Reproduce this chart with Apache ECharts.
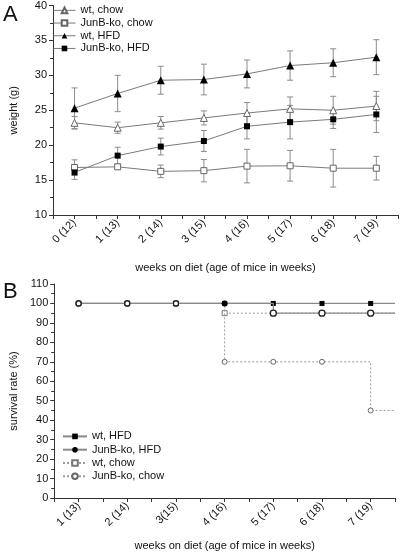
<!DOCTYPE html>
<html><head><meta charset="utf-8">
<script src="https://cdn.jsdelivr.net/npm/echarts@6/dist/echarts.min.js"></script>
<style>html,body{margin:0;padding:0;background:#fff;}#a{position:absolute;left:0;top:0;width:400px;height:278px;}#b{position:absolute;left:0;top:278px;width:400px;height:278px;}</style>
</head><body><div id="a"></div><div id="b"></div>
<script>
// ---- Panel A data ----
const weeksA = ['0 (12)','1 (13)','2 (14)','3 (15)','4 (16)','5 (17)','6 (18)','7 (19)'];
const wtChow    = [23.2,22.5,23.2,23.9,24.6,25.2,25.0,25.6];
const wtChowErr = [0.9,0.8,0.9,1.0,1.5,1.7,2.0,2.1];
const koChow    = [16.8,16.9,16.25,16.35,17.0,17.05,16.7,16.7];
const koChowErr = [1.1,0.3,0.9,1.6,2.4,2.2,2.7,1.7];
const wtHfd     = [25.3,27.4,29.3,29.4,30.2,31.4,31.8,32.6];
const wtHfdErr  = [2.9,2.6,2.0,2.2,2.0,2.1,2.0,2.5];
const koHfd     = [16.1,18.5,19.8,20.6,22.7,23.3,23.7,24.4];
const koHfdErr  = [1.0,1.2,1.2,1.5,1.8,2.4,1.3,2.6];
const yTicksA = [10,15,20,25,30,35,40];

// ---- Panel B data ----
const weeksB = ['1 (13)','2 (14)','3(15)','4 (16)','5 (17)','6 (18)','7 (19)'];
const weekNumB = [1,2,3,4,5,6,7];
const survWtHfd  = [100,100,100,100,100,100,100];
const survKoHfd  = [100,100,100,100,95,95,95];
const survWtChow = [100,100,100,95,95,95,95];
const survKoChow = [100,100,100,70,70,70,45];
const yTicksB = [0,10,20,30,40,50,60,70,80,90,100,110];

const FONT = 'Liberation Sans, Arial, sans-serif';
const TXT = '#111';
const AX = '#333';

function pts(vals, offs){ return vals.map((v,i)=>[i+offs, v]); }
function errPts(vals, errs){ return vals.map((v,i)=>[i, v, errs[i]]); }

function errSeries(vals, errs){
  return {
    type:'custom', xAxisIndex:0, yAxisIndex:0, z:1, silent:true,
    data: errPts(vals, errs),
    renderItem: function(params, api){
      const x = api.value(0), y = api.value(1), e = api.value(2);
      const t = api.coord([x, y+e]), b = api.coord([x, y-e]);
      const w = 3;
      const st = {stroke:'#8c8c8c', lineWidth:1};
      return {type:'group', children:[
        {type:'line', shape:{x1:t[0],y1:t[1],x2:b[0],y2:b[1]}, style:st},
        {type:'line', shape:{x1:t[0]-w,y1:t[1],x2:t[0]+w,y2:t[1]}, style:st},
        {type:'line', shape:{x1:b[0]-w,y1:b[1],x2:b[0]+w,y2:b[1]}, style:st}
      ]};
    }
  };
}

function axisCommon(){
  return {
    axisLine:{show:true, onZero:false, lineStyle:{color:AX, width:1}},
    axisTick:{show:true, inside:false, length:4, lineStyle:{color:AX}},
    splitLine:{show:false},
    axisLabel:{color:TXT, fontFamily:FONT, fontSize:11}
  };
}

// ---------- Chart A ----------
const ca = echarts.init(document.getElementById('a'), null, {renderer:'canvas'});
const lineA = {color:'#7a7a7a', width:1};
ca.setOption({
  animation:false,
  textStyle:{fontFamily:FONT},
  grid:{left:44, right:1, top:5, bottom:57, containLabel:false},
  graphic:[{type:'text', left:3, top:4, style:{text:'A', font:'22px '+FONT, fill:'#111'}}],
  legend:{
    orient:'vertical', left:53, top:4, itemWidth:22, itemHeight:7, itemGap:0, padding:[0,0,0,0],
    lineStyle:{width:1, color:'#7a7a7a'},
    textStyle:{fontFamily:FONT, fontSize:11, color:TXT, lineHeight:12.7},
    data:['wt, chow','JunB-ko, chow','wt, HFD','JunB-ko, HFD']
  },
  xAxis:Object.assign(axisCommon(), {
    type:'value', min:-0.5, max:7.5, interval:0.5,
    name:'weeks on diet (age of mice in weeks)', nameLocation:'middle', nameGap:47,
    nameTextStyle:{fontFamily:FONT, fontSize:11, color:TXT},
    axisLabel:{color:TXT, fontFamily:FONT, fontSize:11, rotate:45, margin:6,
      formatter:function(v){ return (Number.isInteger(v) && v>=0 && v<weeksA.length) ? weeksA[v] : ''; }}
  }),
  yAxis:Object.assign(axisCommon(), {
    type:'value', min:yTicksA[0], max:yTicksA[yTicksA.length-1], interval:yTicksA[1]-yTicksA[0],
    minorTick:{show:true, splitNumber:2, length:3, lineStyle:{color:AX}},
    name:'weight (g)', nameLocation:'middle', nameGap:34,
    nameTextStyle:{fontFamily:FONT, fontSize:11, color:TXT},
    axisLabel:{color:TXT, fontFamily:FONT, fontSize:11, margin:6}
  }),
  series:[
    errSeries(wtChow, wtChowErr),
    errSeries(koChow, koChowErr),
    errSeries(wtHfd, wtHfdErr),
    errSeries(koHfd, koHfdErr),
    {name:'wt, chow', type:'line', z:3, data:pts(wtChow,0), symbol:'triangle', symbolSize:7,
      lineStyle:lineA, itemStyle:{color:'#fff', borderColor:'#666', borderWidth:1}},
    {name:'JunB-ko, chow', type:'line', z:3, data:pts(koChow,0), symbol:'rect', symbolSize:6,
      lineStyle:lineA, itemStyle:{color:'#fff', borderColor:'#666', borderWidth:1}},
    {name:'wt, HFD', type:'line', z:3, data:pts(wtHfd,0), symbol:'triangle', symbolSize:8,
      lineStyle:lineA, itemStyle:{color:'#000', borderColor:'#000', borderWidth:0}},
    {name:'JunB-ko, HFD', type:'line', z:3, data:pts(koHfd,0), symbol:'rect', symbolSize:6,
      lineStyle:lineA, itemStyle:{color:'#000', borderColor:'#000', borderWidth:0}}
  ]
});

// ---------- Chart B ----------
const cb = echarts.init(document.getElementById('b'), null, {renderer:'canvas'});
const xMinB = 0.5, xMaxB = 7.5;
function stepData(vals, styleFn){
  const d = vals.map((v,i)=>{
    const it = {value:[weekNumB[i], v]};
    if (styleFn) { const s = styleFn(v,i); if (s) it.itemStyle = s; }
    return it;
  });
  d.push({value:[xMaxB, vals[vals.length-1]], symbol:'none'});
  return d;
}
const solid = {color:'#8a8a8a', width:1.2, type:'solid'};
const dotted = {color:'#9a9a9a', width:1, type:[2,2]};
cb.setOption({
  animation:false,
  textStyle:{fontFamily:FONT},
  grid:{left:44, right:5, top:6, bottom:52, containLabel:false},
  graphic:[{type:'text', left:3, top:3, style:{text:'B', font:'22px '+FONT, fill:'#111'}}],
  legend:{
    orient:'vertical', left:62, top:152, itemWidth:24, itemHeight:7, itemGap:0.5, padding:[0,0,0,0],
    textStyle:{fontFamily:FONT, fontSize:11, color:TXT, lineHeight:12.8},
    data:['wt, HFD','JunB-ko, HFD','wt, chow','JunB-ko, chow']
  },
  xAxis:Object.assign(axisCommon(), {
    type:'value', min:xMinB, max:xMaxB, interval:0.5,
    name:'weeks on diet (age of mice in weeks)', nameLocation:'middle', nameGap:42,
    nameTextStyle:{fontFamily:FONT, fontSize:11, color:TXT},
    axisLabel:{color:TXT, fontFamily:FONT, fontSize:11, rotate:45, margin:6,
      formatter:function(v){ const k = weekNumB.indexOf(v); return k>=0 ? weeksB[k] : ''; }}
  }),
  yAxis:Object.assign(axisCommon(), {
    type:'value', min:yTicksB[0], max:yTicksB[yTicksB.length-1], interval:yTicksB[1]-yTicksB[0],
    minorTick:{show:true, splitNumber:2, length:3, lineStyle:{color:AX}},
    name:'survival rate (%)', nameLocation:'middle', nameGap:34,
    nameTextStyle:{fontFamily:FONT, fontSize:11, color:TXT},
    axisLabel:{color:TXT, fontFamily:FONT, fontSize:11, margin:6}
  }),
  series:[
    {name:'wt, chow', type:'line', step:'end', z:2, data:stepData(survWtChow), symbol:'rect', symbolSize:5,
      lineStyle:dotted, itemStyle:{color:'#fff', borderColor:'#777', borderWidth:1}},
    {name:'JunB-ko, chow', type:'line', step:'end', z:3, data:stepData(survKoChow), symbol:'circle', symbolSize:5,
      lineStyle:dotted, itemStyle:{color:'#fff', borderColor:'#666', borderWidth:1}},
    {name:'wt, HFD', type:'line', step:'end', z:4, data:stepData(survWtHfd), symbol:'rect', symbolSize:5,
      lineStyle:solid, itemStyle:{color:'#000', borderColor:'#000', borderWidth:0}},
    {name:'JunB-ko, HFD', type:'line', step:'end', z:5,
      data:stepData(survKoHfd, function(v,i){ return v < survKoHfd[0] ? {color:'#fff', borderColor:'#222', borderWidth:1.3} : null; }),
      symbol:'circle', symbolSize:6,
      lineStyle:solid, itemStyle:{color:'#000', borderColor:'#000', borderWidth:0}},
    {type:'line', z:6, silent:true, data:weekNumB.slice(0,3).map((w,i)=>[w, survKoChow[i]]), symbol:'circle', symbolSize:5,
      lineStyle:{width:0, opacity:0}, itemStyle:{color:'#fff', borderColor:'#222', borderWidth:1.2}}
  ]
});
</script></body></html>
